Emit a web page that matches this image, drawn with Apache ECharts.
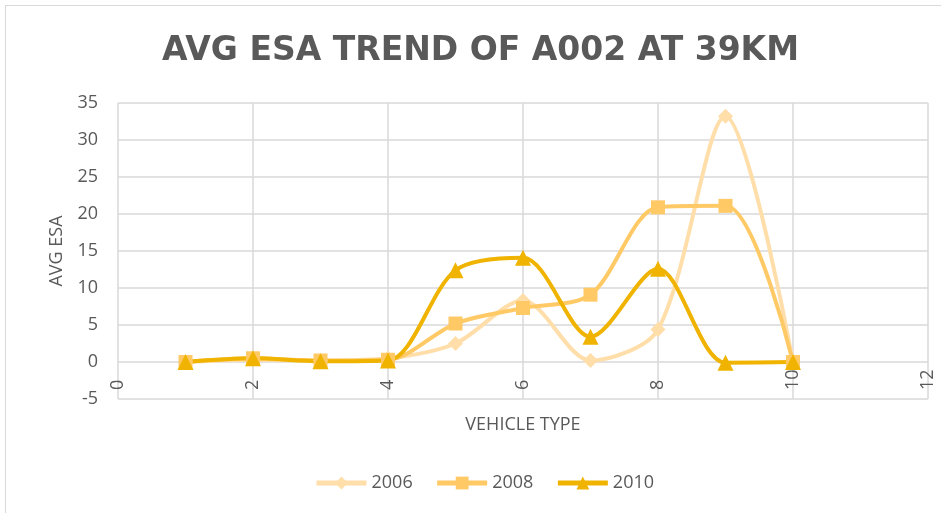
<!DOCTYPE html>
<html>
<head>
	<meta charset="utf-8">
	<title>AVG ESA TREND OF A002 AT 39KM</title>
	<script src="https://cdn.jsdelivr.net/npm/echarts@6/dist/echarts.min.js"></script>
	<style>
		html, body { margin: 0; padding: 0; background: #fff; }
		#frame { position: absolute; left: 5px; top: 5px; width: 960px; height: 540px; border: 1px solid #d9d9d9; }
		#main { position: absolute; left: 0; top: 0; width: 941px; height: 513px; }
	</style>
</head>
<body>
	<div id="frame"></div>
	<div id="main"></div>
	<script type="text/javascript">
		// vehicle type on x, avg ESA per year
		var vehicleTypes = [1, 2, 3, 4, 5, 6, 7, 8, 9, 10];
		var esa2006 = [0, 0.3, 0.2, 0.5, 2.5, 8.3, 0.2, 4.4, 33.2, 0];
		var esa2008 = [0, 0.5, 0.2, 0.3, 5.2, 7.3, 9.1, 20.9, 21.1, 0];
		var esa2010 = [0, 0.5, 0.1, 0.2, 12.4, 14.1, 3.4, 12.6, -0.1, 0];
		var years = ['2006', '2008', '2010'];

		var colors = ['#FFDEAA', '#FFC966', '#EFB300'];

		function pairs(vals) {
			return vehicleTypes.map(function (x, i) { return [x, vals[i]]; });
		}

		var myChart = echarts.init(document.getElementById('main'));
		var textColor = '#595959';
		var font = 'Open Sans';

		var option = {
			animation: false,
			color: colors,
			title: {
				text: 'AVG ESA TREND OF A002 AT 39KM',
				left: 157,
				top: 30,
				textStyle: { fontFamily: 'DejaVu Sans', fontSize: 33, fontWeight: 'bold', color: textColor }
			},
			legend: {
				data: years,
				top: 469,
				left: 309,
				itemWidth: 50,
				itemHeight: 16,
				itemGap: 22,
				lineStyle: { width: 5 },
				textStyle: { fontFamily: font, fontSize: 18, color: textColor }
			},
			grid: { left: 118, right: 13, top: 103, bottom: 114 },
			xAxis: {
				type: 'value',
				min: 0,
				max: 12,
				interval: 2,
				name: 'VEHICLE TYPE',
				nameLocation: 'middle',
				nameGap: 17,
				nameTextStyle: { fontFamily: font, fontSize: 18, color: textColor },
				axisLine: { show: false, onZero: false },
				axisTick: { show: false },
				axisLabel: { rotate: 90, align: 'left', margin: -9, fontFamily: font, fontSize: 18, color: textColor },
				splitLine: { show: true, lineStyle: { color: '#d9d9d9', width: 1.5 } }
			},
			yAxis: {
				type: 'value',
				min: -5,
				max: 35,
				interval: 5,
				name: 'AVG ESA',
				nameLocation: 'middle',
				nameGap: 52,
				nameTextStyle: { fontFamily: font, fontSize: 18, color: textColor },
				axisLine: { show: false },
				axisTick: { show: false },
				axisLabel: { margin: 20, fontFamily: font, fontSize: 18, color: textColor },
				splitLine: { lineStyle: { color: '#d9d9d9', width: 1.5 } }
			},
			series: [
				{
					name: years[0], type: 'line', smooth: 0.3, data: pairs(esa2006),
					symbol: 'diamond', symbolSize: 15,
					lineStyle: { width: 4 }
				},
				{
					name: years[1], type: 'line', smooth: 0.3, data: pairs(esa2008),
					symbol: 'rect', symbolSize: 14,
					lineStyle: { width: 4 }
				},
				{
					name: years[2], type: 'line', smooth: 0.3, data: pairs(esa2010),
					symbol: 'triangle', symbolSize: 16,
					lineStyle: { width: 4 }
				}
			]
		};

		myChart.setOption(option);
	</script>
</body>
</html>
